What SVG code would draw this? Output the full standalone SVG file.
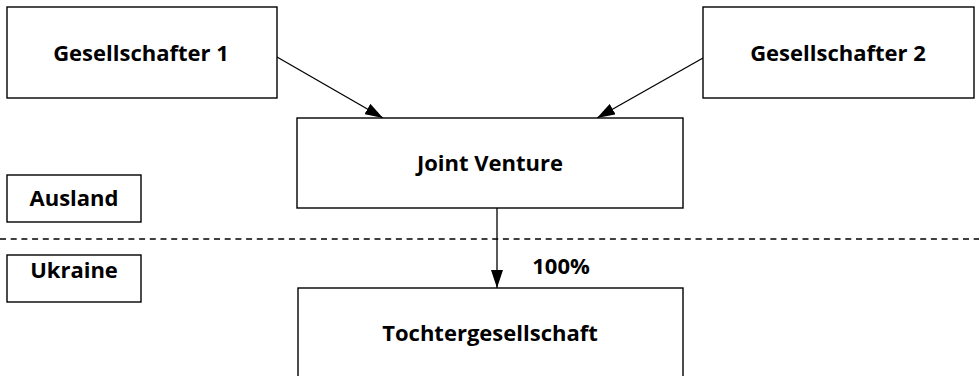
<svg xmlns="http://www.w3.org/2000/svg" width="979" height="376" viewBox="0 0 979 376">
<style>
.box{fill:#fff;stroke:#000;stroke-width:1.4}
.t{font-family:"Open Sans","DejaVu Sans",sans-serif;font-weight:bold;font-size:22px;fill:#000;text-anchor:middle}
.c{stroke:#000;stroke-width:1.3;fill:none}
</style>
<defs>
<marker id="ah" markerWidth="18" markerHeight="12" refX="18" refY="6" orient="auto" markerUnits="userSpaceOnUse">
<path d="M0,0 L18,6 L0,12 Z" fill="#000"/>
</marker>
</defs>
<rect width="979" height="376" fill="#fff"/>
<line x1="0" y1="239" x2="979" y2="239" stroke="#000" stroke-width="1.5" stroke-dasharray="6,4.7"/>
<g id="connectors">
<line class="c" x1="277" y1="57" x2="383" y2="118" marker-end="url(#ah)"/>
<line class="c" x1="703" y1="58" x2="597" y2="118" marker-end="url(#ah)"/>
<line class="c" x1="497" y1="208" x2="497" y2="288" marker-end="url(#ah)"/>
<text class="t" x="561" y="274">100%</text>
</g>
<g id="g1"><rect class="box" x="7" y="7" width="270" height="91"/><text class="t" x="141" y="61">Gesellschafter 1</text></g>
<g id="g2"><rect class="box" x="703" y="7" width="271" height="91"/><text class="t" x="838" y="61">Gesellschafter 2</text></g>
<g id="jv"><rect class="box" x="297" y="118" width="386" height="90"/><text class="t" x="490" y="171">Joint Venture</text></g>
<g id="toechter"><rect class="box" x="298" y="288" width="385" height="92"/><text class="t" x="490" y="341">Tochtergesellschaft</text></g>
<g id="ausland"><rect class="box" x="7" y="175" width="134" height="47"/><text class="t" x="74" y="206">Ausland</text></g>
<g id="ukraine"><rect class="box" x="7" y="255" width="134" height="47"/><text class="t" x="74" y="278">Ukraine</text></g>
</svg>
